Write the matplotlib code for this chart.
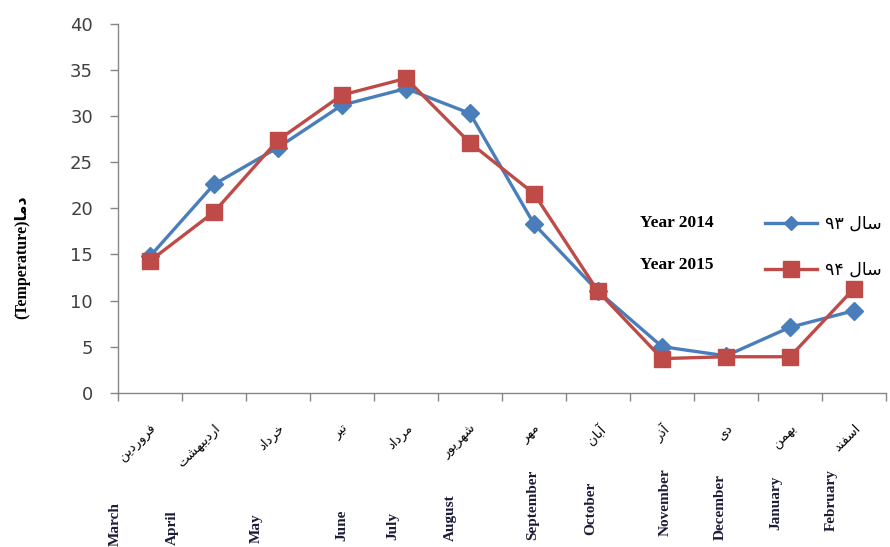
import matplotlib

matplotlib.use("Agg")
import matplotlib.pyplot as plt
import numpy as np
from matplotlib.lines import Line2D

# Monthly mean temperature, Persian calendar (Farvardin .. Esfand)
months_fa = ["فروردین", "اردیبهشت", "خرداد", "تیر", "مرداد", "شهریور",
             "مهر", "آبان", "آذر", "دی", "بهمن", "اسفند"]
months_en = ["March", "April", "May", "June", "July", "August", "September",
             "October", "November", "December", "January", "February"]
temp_1393 = [14.8, 22.6, 26.6, 31.2, 33.0, 30.3, 18.3, 11.0, 5.0, 4.0, 7.1, 8.9]
temp_1394 = [14.3, 19.6, 27.4, 32.3, 34.1, 27.1, 21.6, 11.0, 3.7, 3.9, 3.9, 11.3]
series_fa = ["سال", "سال"]
series_num = ["۹۳", "۹۴"]
series_en = ["Year 2014", "Year 2015"]
ylabel_fa = "دما"
ylabel_en = "(Temperature)"

# Arabic presentation forms: isolated, final, initial, medial
# (letters that never join to the left only have two forms)
FORMS = {
    "ا": "\ufe8d\ufe8e", "آ": "\ufe81\ufe82",
    "د": "\ufea9\ufeaa", "ذ": "\ufeab\ufeac",
    "ر": "\ufead\ufeae", "و": "\ufeed\ufeee",
    "ب": "\ufe8f\ufe90\ufe91\ufe92", "ت": "\ufe95\ufe96\ufe97\ufe98",
    "خ": "\ufea5\ufea6\ufea7\ufea8", "س": "\ufeb1\ufeb2\ufeb3\ufeb4",
    "ش": "\ufeb5\ufeb6\ufeb7\ufeb8", "ف": "\ufed1\ufed2\ufed3\ufed4",
    "ل": "\ufedd\ufede\ufedf\ufee0", "م": "\ufee1\ufee2\ufee3\ufee4",
    "ن": "\ufee5\ufee6\ufee7\ufee8", "ه": "\ufee9\ufeea\ufeeb\ufeec",
    "ی": "\ufeef\ufef0\ufef3\ufef4",
}


def shape_fa(word):
    """Join letters and return them in left-to-right drawing order."""
    out = []
    for i, ch in enumerate(word):
        forms = FORMS.get(ch)
        if forms is None:
            out.append(ch)
            continue
        prev_joins = i > 0 and len(FORMS.get(word[i - 1], "")) == 4
        next_joins = len(forms) == 4 and i + 1 < len(word) and word[i + 1] in FORMS
        if prev_joins and next_joins:
            out.append(forms[3])
        elif prev_joins:
            out.append(forms[1])
        elif next_joins:
            out.append(forms[2])
        else:
            out.append(forms[0])
    return "".join(reversed(out))


W, H = 890, 547
BLUE = "#4a7ebb"
RED = "#be4b48"
SERIF = ["Liberation Serif", "DejaVu Sans"]

fig = plt.figure(figsize=(W / 100, H / 100), dpi=100)
ax = fig.add_axes([118 / W, 1 - 392.7 / H, 768 / W, 368.7 / H])

x = np.arange(len(months_fa))
ax.plot(x, temp_1393, color=BLUE, lw=2.4, marker="D", ms=9, zorder=3)
ax.plot(x, temp_1394, color=RED, lw=2.4, marker="s", ms=11.5, zorder=4)

ax.set_xlim(-0.5, len(x) - 0.5)
ax.set_ylim(0, 40)
ax.set_yticks(np.arange(0, 41, 5))
ax.tick_params(axis="y", labelsize=13, labelcolor="#404040", color="#868686",
               length=6, width=1, pad=12)
ax.set_xticks(np.arange(-0.5, len(x)))
ax.set_xticklabels([])
ax.tick_params(axis="x", color="#868686", length=6, width=1)
for side in ("top", "right"):
    ax.spines[side].set_visible(False)
for side in ("left", "bottom"):
    ax.spines[side].set_color("#868686")
    ax.spines[side].set_linewidth(1)

# Persian month names under each category, slanted
ax.set_xticks(x, minor=True)
ax.set_xticklabels([shape_fa(m) for m in months_fa], minor=True, rotation=45,
                   ha="right", rotation_mode="anchor", fontsize=9.5,
                   family="DejaVu Sans")
ax.tick_params(axis="x", which="minor", length=0, pad=21)

# English month names, set upright below
en_x = [115, 172, 256, 342, 393, 450, 533, 591, 665, 720, 776, 831]
en_bottom = [546, 545, 543, 541, 540, 541, 540, 535, 536, 540, 530, 531]
for name, px, py in zip(months_en, en_x, en_bottom):
    fig.text(px / W, 1 - py / H, name, rotation=90, ha="center", va="bottom",
             fontsize=11, fontweight="bold", family=SERIF, color="#1c1c38")

fig.text(22 / W, 1 - 257 / H, ylabel_en + shape_fa(ylabel_fa), rotation=90,
         ha="center", va="center", fontsize=11.5, fontweight="bold", family=SERIF)

# Legend on the right with the English captions next to it
handles = [
    Line2D([], [], color=BLUE, lw=2.4, marker="D", ms=7.5),
    Line2D([], [], color=RED, lw=2.4, marker="s", ms=11.5),
]
labels = [f"{n} {shape_fa(s)}" for s, n in zip(series_fa, series_num)]
fig.legend(handles, labels, loc="center left", bbox_to_anchor=(765 / W, 1 - 247 / H),
           frameon=False, borderpad=0, borderaxespad=0, handlelength=3.0,
           handletextpad=0.45, labelspacing=1.6, prop={"family": "DejaVu Sans", "size": 12.5})
for label, py in zip(series_en, [223, 265]):
    fig.text(640 / W, 1 - py / H, label, ha="left", va="center", fontsize=12.5,
             fontweight="bold", family=SERIF)

fig.savefig("out.png", dpi=100)
